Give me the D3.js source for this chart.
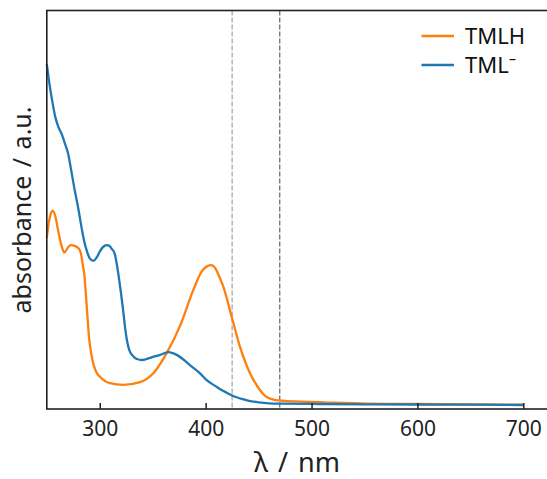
<!DOCTYPE html>
<html><head><meta charset="utf-8">
<script src="https://cdn.jsdelivr.net/npm/d3@7/dist/d3.min.js"></script>
<style>body{margin:0;background:#fff}svg{display:block}</style>
</head><body>
<svg id="c" width="547" height="479"></svg>
<script>
// TML− (blue) spectrum: wavelength (nm) and absorbance (a.u.)
const blueWl = [250,252,255,258,261,264,267,270,273,276,280,282,285,288,291,294,297,300,303,306.6,309,311.3,314,316,318,320,322,324,326,328,331,335,340,349,357,364.7,372.7,385.2,394.7,401,410,415,420,425,430,435,440,450,460,470,508,550,600,650,700];
const blueAbs = [1.0,0.953,0.894,0.845,0.815,0.795,0.768,0.739,0.689,0.636,0.572,0.535,0.485,0.45,0.428,0.423,0.432,0.45,0.463,0.469,0.467,0.458,0.445,0.415,0.375,0.33,0.28,0.225,0.185,0.16,0.145,0.135,0.132,0.14,0.147,0.155,0.147,0.117,0.093,0.073,0.054,0.044,0.036,0.028,0.022,0.017,0.013,0.008,0.005,0.004,0.003,0.002,0.0015,0.001,0.0];
// TMLH (orange) spectrum
const orangeWl = [250,252,254,255.5,258,261,264,266.5,270,272.5,277,279,281,282.5,284,285.5,287,288.5,290,292,294,297,300.2,309.7,322.2,338,350.6,363.2,375.8,388.3,396.3,402,405,408.5,412,416.7,424.6,432.4,441.9,451.3,455,459,465,475,490,510,552,600,650,700];
const orangeAbs = [0.49,0.537,0.563,0.57,0.554,0.507,0.466,0.447,0.462,0.469,0.466,0.462,0.455,0.44,0.41,0.38,0.32,0.255,0.195,0.15,0.12,0.095,0.083,0.064,0.059,0.067,0.093,0.152,0.232,0.337,0.392,0.408,0.41,0.404,0.383,0.347,0.259,0.171,0.093,0.044,0.03,0.021,0.015,0.012,0.01,0.008,0.004,0.003,0.002,0.001];
const xTicks = [300,400,500,600,700];
const vLines = [425,470];
const seriesNames = ["TMLH","TML\u207B"];

const svg = d3.select("#c");
const x = d3.scaleLinear().domain([250,725]).range([46.8,549.8]);
const y = d3.scaleLinear().domain([-0.0117,1.157]).range([409,10.5]);
const font = "'Noto Sans', 'Open Sans', sans-serif";

const line = d3.line().x(d=>x(d[0])).y(d=>y(d[1])).curve(d3.curveMonotoneX);
const orange = orangeWl.map((w,i)=>[w,orangeAbs[i]]);
const blue = blueWl.map((w,i)=>[w,blueAbs[i]]);

// vertical dashed lines
svg.selectAll("line.v").data(vLines).enter().append("line")
  .attr("x1",d=>x(d)).attr("x2",d=>x(d)).attr("y1",y.range()[1]).attr("y2",y.range()[0])
  .attr("stroke",(d,i)=> i===0 ? "#999" : "#555").attr("stroke-width",1.1).attr("stroke-dasharray","5,2");

svg.append("path").datum(orange).attr("d",line).attr("fill","none").attr("stroke","#ff7f0e").attr("stroke-width",2.3);
svg.append("path").datum(blue).attr("d",line).attr("fill","none").attr("stroke","#1f77b4").attr("stroke-width",2.3);

// axes frame
const xa = d3.axisBottom(x).tickValues(xTicks).tickSizeInner(-6).tickSizeOuter(0).tickPadding(12);
const gx = svg.append("g").attr("transform",`translate(0,${y.range()[0]})`).call(xa);
gx.select(".domain").remove();
gx.selectAll(".tick line").attr("stroke","#222").attr("stroke-width",1.5);
gx.selectAll(".tick text").attr("font-family",font).attr("font-size",21).attr("fill","#222");

svg.append("rect").attr("x",x.range()[0]).attr("y",y.range()[1])
  .attr("width",x.range()[1]-x.range()[0]).attr("height",y.range()[0]-y.range()[1])
  .attr("fill","none").attr("stroke","#222").attr("stroke-width",1.6);

// axis labels
svg.append("text").attr("x",297).attr("y",472).attr("text-anchor","middle")
  .attr("font-family",font).attr("font-size",27).attr("fill","#222").style("word-spacing","3px").text("λ / nm");
svg.append("text").attr("transform","translate(31,210) rotate(-90)").attr("text-anchor","middle")
  .attr("font-family",font).attr("font-size",25).attr("fill","#222").style("word-spacing","2px").text("absorbance / a.u.");

// legend
const lg = svg.append("g");
const colors = ["#ff7f0e","#1f77b4"];
seriesNames.forEach((n,i)=>{
  const yy = 36 + i*29;
  lg.append("line").attr("x1",421.5).attr("x2",454).attr("y1",yy).attr("y2",yy).attr("stroke",colors[i]).attr("stroke-width",2.3);
  lg.append("text").attr("x",465).attr("y",yy+8).attr("font-family",font).attr("font-size",22).attr("fill","#111").text(n);
});
</script>
</body></html>
